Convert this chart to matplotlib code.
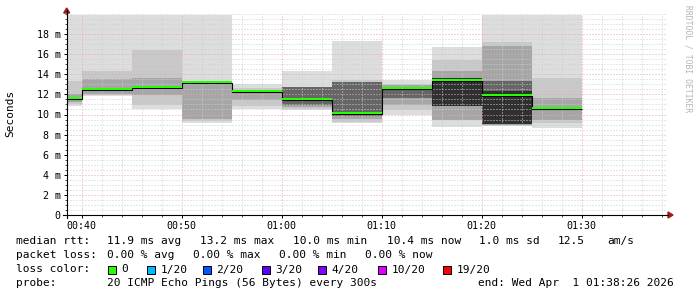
import matplotlib
matplotlib.use("Agg")
import matplotlib.pyplot as plt
from matplotlib.lines import Line2D
from matplotlib.patches import Polygon, Rectangle
from matplotlib.ticker import FixedLocator, MultipleLocator, FuncFormatter

W, H = 697, 297
MONO = "DejaVu Sans Mono"

# ---------------------------------------------------------------
# data: 5 minute steps (minutes after midnight), values in ms
# ---------------------------------------------------------------
step_start = [35, 40, 45, 50, 55, 60, 65, 70, 75, 80, 85]
median_ms = [11.5, 12.4, 12.6, 13.1, 12.2, 11.4, 10.05, 12.5, 13.3, 11.8, 10.5]

# smoke layers, outermost (lightest) first
smoke1_lo = [10.8, 11.8, 10.5, 9.2, 10.5, 10.4, 9.2, 10.0, 8.8, 8.9, 8.7]
smoke1_hi = [19.9, 19.9, 19.9, 19.9, 13.0, 14.3, 17.3, 13.4, 16.7, 19.9, 19.9]
smoke2_lo = [11.0, 11.9, 10.9, 9.4, 10.8, 10.5, 9.3, 10.4, 9.5, 8.9, 9.2]
smoke2_hi = [13.3, 14.3, 16.4, 13.1, 12.6, 12.7, 13.4, 13.0, 15.4, 17.2, 13.6]
smoke3_lo = [11.2, 12.0, 11.9, 9.6, 11.4, 10.7, 9.6, 10.9, 9.5, 9.0, 9.5]
smoke3_hi = [12.0, 13.5, 13.6, 13.1, 12.3, 12.7, 13.2, 12.9, 14.3, 16.8, 11.6]
smoke4_lo = [11.5, 12.4, 12.6, 13.1, 12.2, 10.9, 9.9, 11.6, 10.8, 9.1, 10.5]
smoke4_hi = [11.5, 12.4, 12.6, 13.1, 12.2, 12.7, 13.2, 12.5, 13.6, 13.3, 10.5]
smoke5_lo = [11.5, 12.4, 12.6, 13.1, 12.2, 11.4, 10.05, 12.5, 10.8, 9.1, 10.5]
smoke5_hi = [11.5, 12.4, 12.6, 13.1, 12.2, 11.4, 10.05, 12.5, 13.6, 12.3, 10.5]

x_ticks = [40, 50, 60, 70, 80, 90]
y_ticks = [0, 2, 4, 6, 8, 10, 12, 14, 16, 18]

loss_labels = ["0", "1/20", "2/20", "3/20", "4/20", "10/20", "19/20"]
loss_colors = ["#26ff00", "#00b8ff", "#0059ff", "#5e00ff", "#7e00ff", "#dd00ff", "#ff0000"]

rtt_stats = ["11.9 ms avg", "13.2 ms max", "10.0 ms min", "10.4 ms now", "1.0 ms sd", "12.5", "am/s"]
loss_stats = ["0.00 % avg", "0.00 % max", "0.00 % min", "0.00 % now"]


def fx(x):
    return x / W


def fy(y):
    return 1 - y / H


fig = plt.figure(figsize=(W / 100, H / 100), dpi=100)
ax = fig.add_axes([fx(66.7), fy(215), 600 / W, 201 / H])

# smoke
layers = [
    (smoke1_lo, smoke1_hi, "#dddddd"),
    (smoke2_lo, smoke2_hi, "#c8c8c8"),
    (smoke3_lo, smoke3_hi, "#a6a6a6"),
    (smoke4_lo, smoke4_hi, "#666666"),
    (smoke5_lo, smoke5_hi, "#303030"),
]
for lo, hi, col in layers:
    ax.bar(step_start, [h - l for l, h in zip(lo, hi)], bottom=lo, width=5,
           align="edge", color=col, linewidth=0, zorder=1)

# median: black step line + loss coloured band
edges = step_start + [step_start[-1] + 5]
ax.stairs(median_ms, edges, baseline=None, color="black", lw=0.8, zorder=3)
ax.bar(step_start, [0.2] * len(median_ms), bottom=[m + 0.03 for m in median_ms],
       width=5, align="edge", color=loss_colors[0], linewidth=0, zorder=4)

ax.set_xlim(38.5, 98.5)
ax.set_ylim(0, 20)

ax.xaxis.set_major_locator(FixedLocator(x_ticks))
ax.xaxis.set_minor_locator(MultipleLocator(2))
ax.xaxis.set_major_formatter(FuncFormatter(lambda v, p: f"{int(v) // 60:02d}:{int(v) % 60:02d}"))
ax.yaxis.set_major_locator(FixedLocator(y_ticks))
ax.yaxis.set_minor_locator(MultipleLocator(0.5))
ax.yaxis.set_major_formatter(FuncFormatter(lambda v, p: "0" if v == 0 else f"{int(v)} m"))

ax.set_axisbelow(False)
ax.grid(which="minor", color="#cfcfcf", linestyle=(0, (1, 2)), lw=0.72)
ax.grid(which="major", color="#e6a8a8", linestyle=(0, (1, 2)), lw=0.72)

ax.tick_params(which="both", direction="out", labelsize=7.2, colors="black")
ax.tick_params(which="major", length=2.2, width=0.7, pad=2)
ax.tick_params(which="minor", length=1.2, width=0.5)
for lab in ax.get_xticklabels() + ax.get_yticklabels():
    lab.set_family(MONO)

for sp in ax.spines.values():
    sp.set_visible(False)

# axes with arrows
fig.add_artist(Line2D([fx(66.7), fx(66.7)], [fy(218), fy(10)], color="black", lw=0.8))
fig.add_artist(Line2D([fx(63), fx(668)], [fy(215), fy(215)], color="black", lw=0.8))
fig.add_artist(Polygon([[fx(63.7), fy(13)], [fx(69.7), fy(13)], [fx(66.7), fy(8)]],
                       closed=True, color="#a01818", transform=fig.transFigure))
fig.add_artist(Polygon([[fx(668), fy(212)], [fx(668), fy(218)], [fx(673), fy(215)]],
                       closed=True, color="#a01818", transform=fig.transFigure))

fig.text(fx(10), fy(113), "Seconds", rotation=90, ha="center", va="center",
         family=MONO, fontsize=8)
fig.text(fx(688), fy(59), "RRDTOOL / TOBI OETIKER", rotation=270, ha="center",
         va="center", family=MONO, fontsize=5.8, color="#b4b4b4")

# legend block
txt = dict(family=MONO, fontsize=8, va="center", ha="left")
fig.text(fx(16), fy(241), "median rtt:", **txt)
for x, s in zip([107, 200, 293, 386.7, 479, 558, 607], rtt_stats):
    fig.text(fx(x), fy(241), s, **txt)

fig.text(fx(16), fy(255), "packet loss:", **txt)
for x, s in zip([107, 193, 279, 365], loss_stats):
    fig.text(fx(x), fy(255), s, **txt)

fig.text(fx(16), fy(269.5), "loss color:", **txt)
for x, lab, col in zip([108, 147, 203, 262, 318, 378, 443], loss_labels, loss_colors):
    fig.add_artist(Rectangle((fx(x), fy(273.5)), 8 / W, 8 / H, facecolor=col,
                             edgecolor="black", lw=0.7, transform=fig.transFigure))
    fig.text(fx(x + 13.5), fy(269.5), lab, **txt)

fig.text(fx(16), fy(283.5), "probe:", **txt)
fig.text(fx(107), fy(283.5), "20 ICMP Echo Pings (56 Bytes) every 300s", **txt)
fig.text(fx(478), fy(283.5), "end: Wed Apr  1 01:38:26 2026", **txt)

fig.savefig("out.png", dpi=100)
